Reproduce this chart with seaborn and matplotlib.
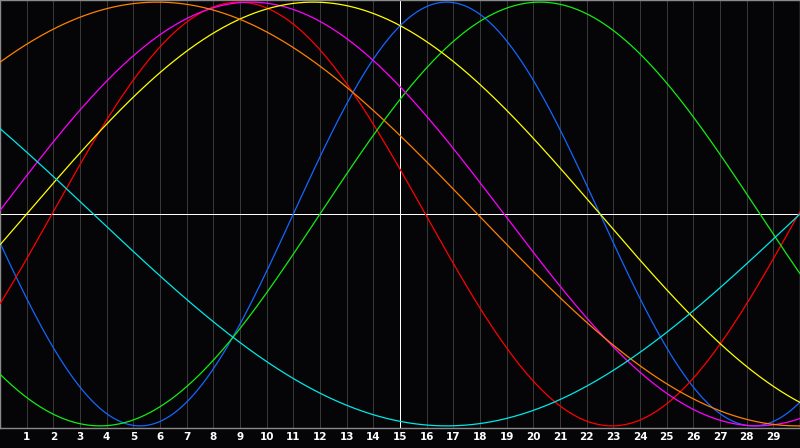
import numpy as np
import pandas as pd
import matplotlib
matplotlib.use("Agg")
import matplotlib.pyplot as plt
import seaborn as sns

# biorhythm cycles: period (days) and day-in-cycle at day 0
periods = [23, 28, 33, 38, 43, 48, 53]
offsets = [12.0, 26.05, 21.0, 0.1, 42.0, 6.1, 23.0]
colors = ['#1466ff', '#ff0000', '#11ee11', '#ff00ff', '#ffff00', '#ff8000', '#00e8e8']
day_labels = [str(d) for d in range(1, 30)]
n_days = 30

bg = '#050508'
px = 0.72  # one pixel at 100 dpi
sns.set_style("dark", {"axes.facecolor": bg, "figure.facecolor": bg})

days = np.linspace(0, n_days, 801)
rows = []
for p, off in zip(periods, offsets):
    vals = np.sin(2 * np.pi * (days + off) / p)
    rows.append(pd.DataFrame({"day": days, "value": vals, "cycle": str(p)}))
df = pd.concat(rows, ignore_index=True)

fig = plt.figure(figsize=(8, 4.48), dpi=100)
ax = fig.add_axes([0, 20 / 448, 1, 428 / 448])
ax.set_facecolor(bg)

# vertical day grid
for d in range(1, n_days):
    ax.axvline(d, color='white' if d == 15 else '#383838', lw=px,
               antialiased=False, zorder=1)
ax.axhline(0, color='white', lw=px, antialiased=False, zorder=1)

sns.lineplot(data=df, x="day", y="value", hue="cycle",
             palette=dict(zip([str(p) for p in periods], colors)),
             lw=0.9, legend=False, ax=ax, zorder=3)

ax.set_xlim(0, n_days)
ax.set_ylim(-1.01, 1.01)
ax.set_xticks(range(1, n_days))
ax.set_xticklabels(day_labels, color='white', fontsize=7.5, fontweight='bold')
ax.tick_params(axis='x', length=0, pad=3)
ax.set_yticks([])
ax.set_xlabel('')
ax.set_ylabel('')
ax.grid(False)
for s in ax.spines.values():
    s.set_visible(True)
    s.set_color('#8a8a8a')
    s.set_linewidth(1.0)

fig.savefig("out.png", dpi=100, facecolor=bg)
